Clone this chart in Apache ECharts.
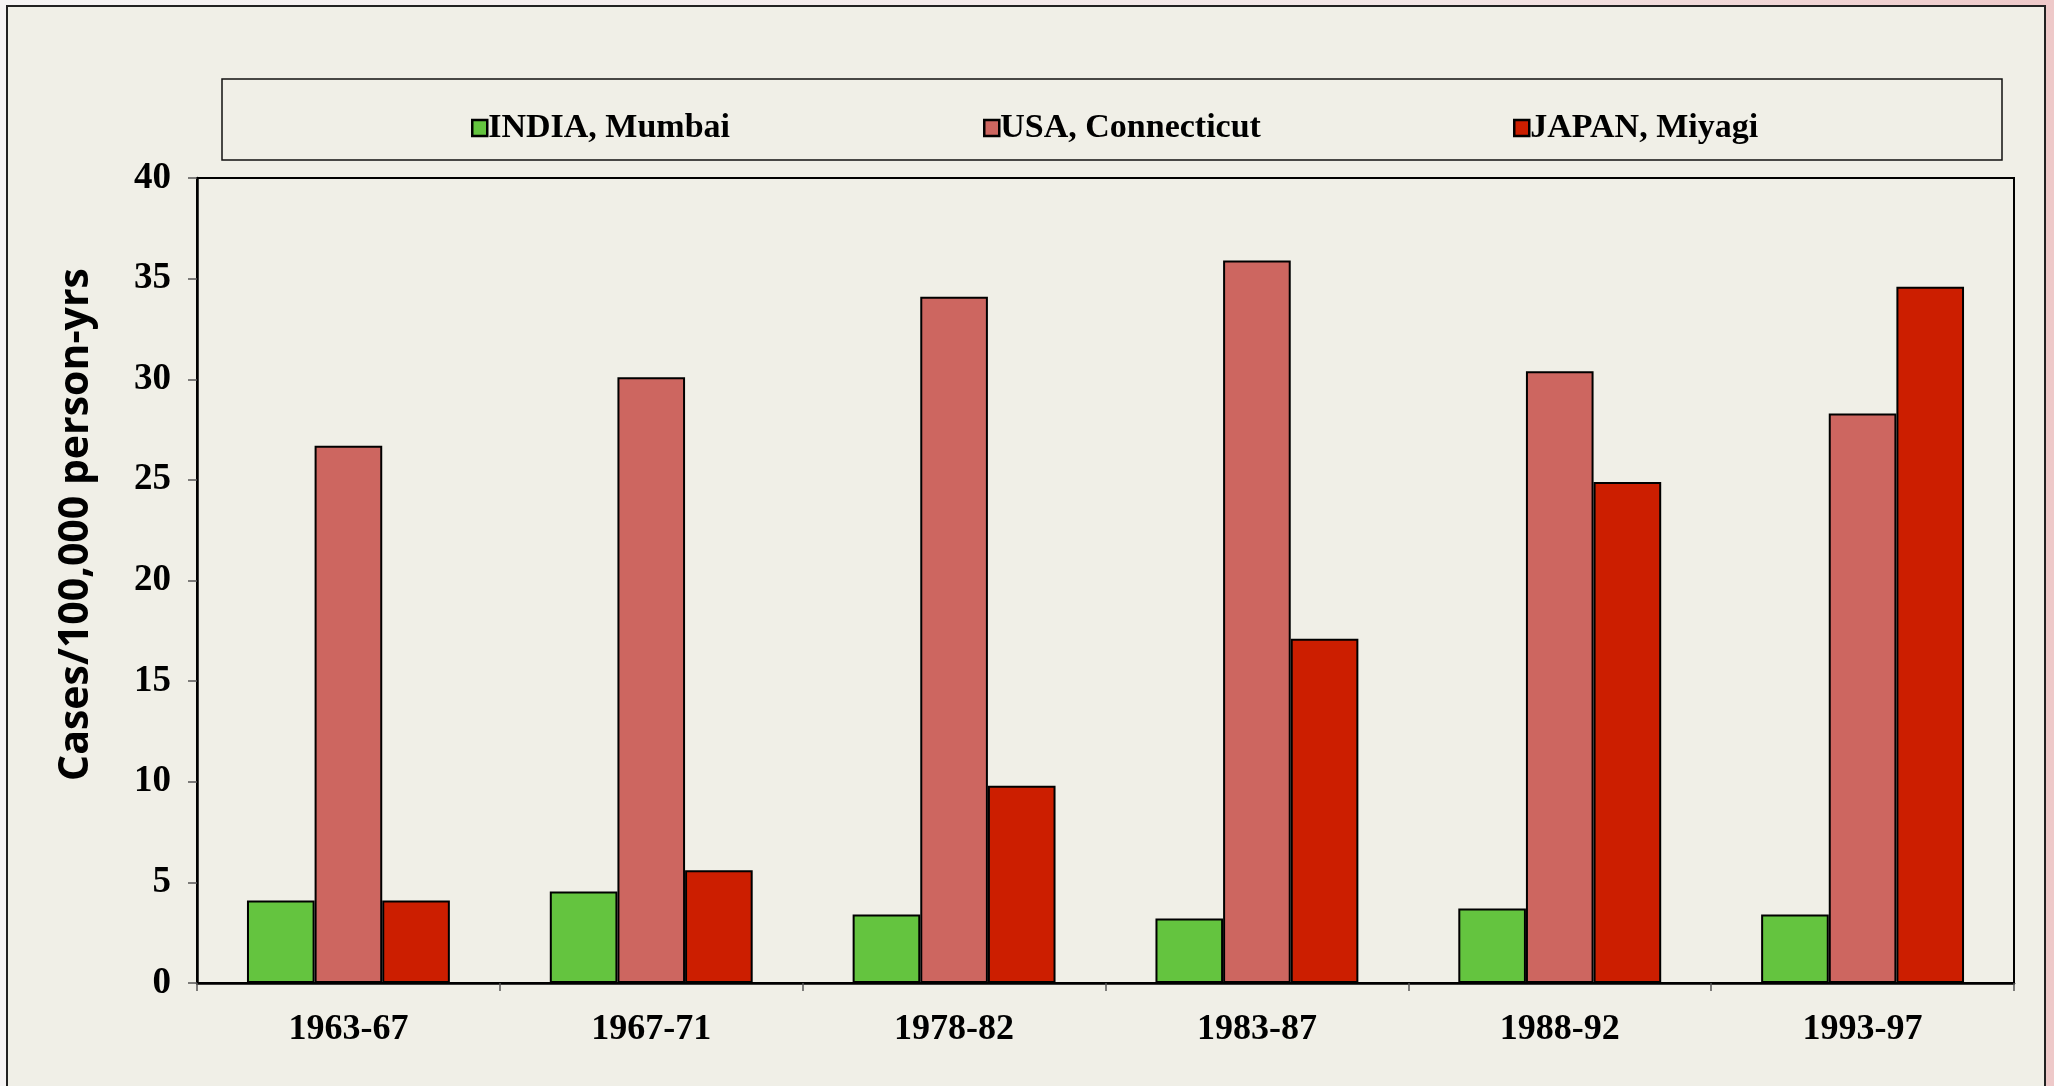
<!DOCTYPE html>
<html>
<head>
<meta charset="utf-8">
<script src="https://cdn.jsdelivr.net/npm/echarts@6/dist/echarts.min.js"></script>
<style>
  html, body { margin: 0; padding: 0; }
  body {
    width: 2054px; height: 1086px; overflow: hidden; position: relative;
    background: linear-gradient(to right, #f6f4f4 0%, #f3e6e6 70%, #eec9c9 100%);
  }
  /* slide frame behind the chart */
  #frame {
    position: absolute; left: 6px; top: 5px; width: 2040px; height: 1100px;
    border: 2px solid #222; background: #f0efe7; box-sizing: border-box;
  }
  #myChart { position: absolute; left: 0; top: 0; width: 2054px; height: 1086px; }
</style>
</head>
<body>
<div id="frame"></div>
<div id="myChart"></div>
<script>
// periods on the x axis
var periods = ['1963-67', '1967-71', '1978-82', '1983-87', '1988-92', '1993-97'];
// cases / 100,000 person-yrs
var mumbai = [4.1, 4.55, 3.4, 3.2, 3.7, 3.4];
var connecticut = [26.7, 30.1, 34.1, 35.9, 30.4, 28.3];
var miyagi = [4.1, 5.6, 9.8, 17.1, 24.9, 34.6];
var seriesNames = ['INDIA, Mumbai', 'USA, Connecticut', 'JAPAN, Miyagi'];
var yTicks = { min: 0, max: 40, step: 5 };

var serif = '"Liberation Serif", "Times New Roman", serif';
var colors = ['#64c43f', '#cd6660', '#cc1e00'];

var myChart = echarts.init(document.getElementById('myChart'));

function legendAt(name, left) {
  return {
    data: [name],
    left: left,
    top: 111,
    icon: 'rect',
    itemWidth: 15,
    itemHeight: 16,
    itemGap: 6,
    padding: 0,
    itemStyle: { borderColor: '#000', borderWidth: 2.5 },
    textStyle: { fontFamily: serif, fontWeight: 'bold', fontSize: 34, color: '#000', padding: [5, 0, 0, -4] }
  };
}

var option = {
  backgroundColor: 'transparent',
  animation: false,
  color: colors,
  legend: [
    legendAt(seriesNames[0], 471),
    legendAt(seriesNames[1], 983),
    legendAt(seriesNames[2], 1513)
  ],
  graphic: [{
    type: 'rect',
    shape: { x: 222, y: 79, width: 1780, height: 81 },
    style: { fill: 'none', stroke: '#111', lineWidth: 1.5 },
    silent: true
  }],
  grid: {
    left: 197, right: 40, top: 178, bottom: 103,
    show: true, borderColor: '#000', borderWidth: 2,
    backgroundColor: 'transparent'
  },
  xAxis: {
    type: 'category',
    data: periods,
    axisLine: { lineStyle: { color: '#000', width: 2.5 } },
    axisTick: { show: true, length: 8, lineStyle: { color: '#555', width: 1.5 } },
    axisLabel: { fontFamily: serif, fontWeight: 'bold', fontSize: 36, color: '#000', margin: 29 }
  },
  yAxis: {
    type: 'value',
    min: yTicks.min,
    max: yTicks.max,
    interval: yTicks.step,
    name: 'Cases/100,000 person-yrs',
    nameLocation: 'middle',
    nameGap: 100,
    nameTextStyle: {
      fontFamily: '"Open Sans", "Noto Sans", sans-serif',
      fontWeight: 'bold', fontSize: 41, color: '#000',
      padding: [0, 0, 0, 112]
    },
    axisLine: { show: true, lineStyle: { color: '#000', width: 2.5 } },
    axisTick: { show: true, length: 9, lineStyle: { color: '#555', width: 1.5 } },
    splitLine: { show: false },
    axisLabel: { fontFamily: serif, fontWeight: 'bold', fontSize: 37, color: '#000', margin: 26, padding: [5, 0, 0, 0] }
  },
  series: [
    { name: seriesNames[0], type: 'bar', data: mumbai, barGap: '0%', barCategoryGap: '33%',
      itemStyle: { color: colors[0], borderColor: '#000', borderWidth: 2 } },
    { name: seriesNames[1], type: 'bar', data: connecticut,
      itemStyle: { color: colors[1], borderColor: '#000', borderWidth: 2 } },
    { name: seriesNames[2], type: 'bar', data: miyagi,
      itemStyle: { color: colors[2], borderColor: '#000', borderWidth: 2 } }
  ]
};

myChart.setOption(option);
</script>
</body>
</html>
